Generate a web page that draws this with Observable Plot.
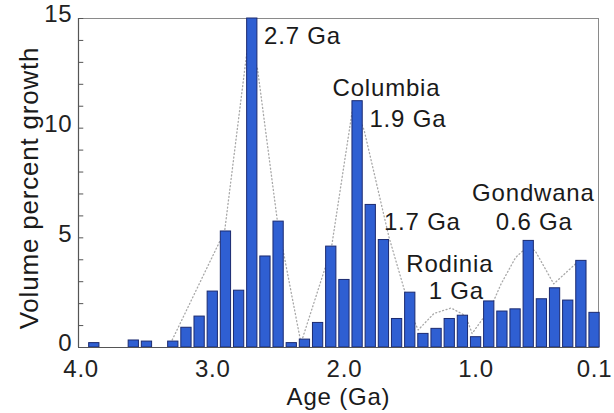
<!DOCTYPE html>
<html>
<head>
<meta charset="utf-8">
<script src="https://cdn.jsdelivr.net/npm/d3@7"></script>
<script src="https://cdn.jsdelivr.net/npm/@observablehq/plot@0.6"></script>
<style>
  html, body { margin: 0; padding: 0; background: #fff; }
  #chart svg { display: block; }
</style>
</head>
<body>
<div id="chart"></div>
<script>
// Bar data: age bins (Ga) and volume percent growth
const ages = [3.9, 3.6, 3.5, 3.3, 3.2, 3.1, 3.0, 2.9, 2.8, 2.7,
              2.6, 2.5, 2.4, 2.3, 2.2, 2.1, 2.0, 1.9, 1.8, 1.7,
              1.6, 1.5, 1.4, 1.3, 1.2, 1.1, 1.0, 0.9, 0.8, 0.7,
              0.6, 0.5, 0.4, 0.3, 0.2, 0.1];
const growth = [0.2, 0.32, 0.27, 0.27, 0.9, 1.41, 2.55, 5.29, 2.59, 15,
                4.15, 5.74, 0.2, 0.36, 1.12, 4.6, 3.08, 11.23, 6.5, 4.9,
                1.3, 2.5, 0.62, 0.85, 1.3, 1.45, 0.47, 2.1, 1.64, 1.74,
                4.86, 2.2, 2.7, 2.14, 3.95, 1.58];

// Dotted envelope
const envAge = [3.32, 2.91, 2.73, 2.66, 2.51, 2.33, 2.1, 1.93, 1.85, 1.66, 1.49, 1.44,
                1.32, 1.19, 1.08, 1.03, 0.89, 0.81, 0.70, 0.61, 0.55, 0.41, 0.22];
const envVal = [0.2, 5.3, 14.0, 12.7, 5.8, 0.2, 4.5, 11.2, 9.9, 5.0, 1.5, 0.8,
                1.55, 1.8, 1.45, 0.64, 1.8, 2.9, 4.1, 4.6, 4.4, 2.9, 3.95];

// Annotations
const noteText = ["2.7 Ga", "Columbia", "1.9 Ga", "1.7 Ga", "Rodinia", "1 Ga", "Gondwana", "0.6 Ga"];
const noteAge  = [2.61, 2.09, 1.81, 1.70, 1.53, 1.36, 1.03, 0.85];
const noteVal  = [14.2, 11.8, 10.4, 5.7, 3.8, 2.55, 7.05, 5.7];

// Axis ticks
const xTicks = [4.0, 3.0, 2.0, 1.0, 0.1];
const yTicks = [0, 5, 10, 15];
const yMinor = d3.range(0, 16);

const xDomain = [4.02, 0.07];
const binHalf = 0.039;
const minorLen = 0.04;

const bars = ages.map((a, i) => ({age: a, value: growth[i]}));
const env = envAge.map((a, i) => ({age: a, value: envVal[i]}));
const notes = noteText.map((t, i) => ({text: t, age: noteAge[i], value: noteVal[i]}));

const font = "Liberation Sans, Arial, Helvetica, sans-serif";

const chart = Plot.plot({
  width: 614,
  height: 413,
  marginLeft: 78,
  marginRight: 16,
  marginTop: 18,
  marginBottom: 66,
  style: {fontFamily: font, fontSize: "24px", color: "#222", background: "#fff", letterSpacing: "0.8px"},
  x: {domain: xDomain, label: null},
  y: {domain: [0, 15], label: null},
  marks: [
    Plot.frame({stroke: "#8a8a8a", strokeWidth: 1}),
    Plot.line(env, {x: "age", y: "value", stroke: "#a8a8a8", strokeWidth: 1.3, strokeDasharray: "1,2.6"}),
    Plot.rectY(bars, {
      x1: d => d.age + binHalf, x2: d => d.age - binHalf, y: "value",
      fill: "#2f5fd2", stroke: "#1b2a70", strokeWidth: 1
    }),
    Plot.ruleY(yMinor, {x1: xDomain[0], x2: xDomain[0] - minorLen, stroke: "#555", strokeWidth: 1}),
    Plot.ruleX([xDomain[0]], {stroke: "#555", strokeWidth: 1.2}),
    Plot.ruleY([0], {stroke: "#555", strokeWidth: 1.2}),
    Plot.axisY(yTicks, {tickSize: 0, tickPadding: 6, dy: -4, fontSize: 24}),
    Plot.axisX(xTicks, {tickSize: 0, tickPadding: 12, tickFormat: d => d.toFixed(1), fontSize: 24}),
    Plot.text(notes, {x: "age", y: "value", text: "text", textAnchor: "start", fontSize: 24, fill: "#1a1a1a"}),
    Plot.text(["Age (Ga)"], {frameAnchor: "bottom", dy: 57, fontSize: 24, fill: "#1a1a1a"}),
    Plot.text(["Volume percent growth"], {frameAnchor: "left", textAnchor: "middle", rotate: -90, dx: -49, dy: 5, fontSize: 26, fill: "#1a1a1a"})
  ]
});
document.getElementById("chart").appendChild(chart);
</script>
</body>
</html>
